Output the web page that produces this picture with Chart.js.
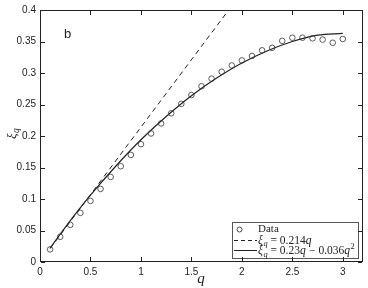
<!DOCTYPE html>
<html><head><meta charset="utf-8">
<script src="https://cdn.jsdelivr.net/npm/chart.js@4"></script>
<style>
html,body{margin:0;background:#fff}
#wrap{position:relative;width:368px;height:288px}
.ln{position:absolute;background:#222;pointer-events:none}
</style>
</head><body><div id="wrap"><canvas id="c"></canvas></div>
<script>
/* DATA */
const q=[0.1,0.2,0.3,0.4,0.5,0.6,0.7,0.8,0.9,1.0,1.1,1.2,1.3,1.4,1.5,1.6,1.7,1.8,1.9,2.0,2.1,2.2,2.3,2.4,2.5,2.6,2.7,2.8,2.9,3.0];
const xi=[0.020,0.040,0.059,0.078,0.097,0.116,0.135,0.152,0.170,0.187,0.204,0.220,0.236,0.251,0.265,0.279,0.291,0.302,0.312,0.320,0.327,0.336,0.340,0.351,0.356,0.356,0.355,0.353,0.348,0.354];
const linQ=[0.1,2.0];
const linXi=[0.0214,0.428];
const fitQ=[0.1,0.25,0.5,0.75,1.0,1.25,1.5,1.75,2.0,2.25,2.5,2.75,3.0];
const fitXi=[0.022,0.055,0.106,0.152,0.194,0.231,0.264,0.292,0.316,0.335,0.350,0.360,0.363];
const xTicks=[0,0.5,1,1.5,2,2.5,3];
const xLabels=['0','0.5','1','1.5','2','2.5','3'];
const yTicks=[0,0.05,0.1,0.15,0.2,0.25,0.3,0.35,0.4];
const yLabels=['0','0.05','0.1','0.15','0.2','0.25','0.3','0.35','0.4'];

const ink='#222';
const serif='"Liberation Serif","DejaVu Serif",serif';
const sans='"Liberation Sans",Arial,sans-serif';
const pts=(a,b)=>a.map((v,i)=>({x:v,y:b[i]}));
const TL=4;

/* math text: parts [text, style] n normal, i italic, sub, sup */
function mathText(ctx,parts,x,y,size){
  parts.forEach(p=>{
    let s=size,dy=0,st='';
    if(p[1]=='i')st='italic ';
    if(p[1]=='sub'){st='italic ';s=size*0.72;dy=size*0.25;}
    if(p[1]=='sup'){s=size*0.72;dy=-size*0.4;}
    ctx.font=st+s+'px '+serif;
    ctx.fillText(p[0],x,y+dy);
    x+=ctx.measureText(p[0]).width+(p[1]=='i'?0.5:0);
  });
}

/* frame rectangles (pixel rows/cols) from the scales */
function frameRects(ch){
  const a=ch.chartArea,sx=ch.scales.x,sy=ch.scales.y;
  const l=Math.round(a.left),r=Math.round(a.right)-1,t=Math.round(a.top),b=Math.round(a.bottom)-1;
  const R=[[l,t,r-l+1,1],[l,b,r-l+1,1],[l,t,1,b-t+1],[r,t,1,b-t+1]];
  xTicks.forEach(v=>{
    const p=Math.round(sx.getPixelForValue(v));
    R.push([p,b-TL,1,TL],[p,t+1,1,TL]);
  });
  yTicks.forEach(v=>{
    const p=Math.round(sy.getPixelForValue(v));
    R.push([l+1,p,TL,1],[r-TL,p,TL,1]);
  });
  return R;
}

/* LABELS + LEGEND + FRAME */
const deco={id:'deco',afterDraw(ch){
  const c=ch.ctx;
  c.save();
  c.fillStyle=ink;
  c.textBaseline='alphabetic';
  c.font='13px '+sans;
  c.fillText('b',64,38);

  /* axis titles */
  c.font='italic 15px '+serif;
  c.textAlign='center';
  c.fillText('q',201,283);
  c.save();
  c.translate(16,139);c.rotate(-Math.PI/2);
  c.textAlign='left';
  mathText(c,[['ξ','i'],['q','sub']],0,0,13);
  c.restore();

  /* legend */
  c.textAlign='left';
  const L=232,T=222,W=126,H=36;
  c.fillStyle='#fff';c.fillRect(L,T,W,H);
  c.strokeStyle='#555';c.lineWidth=1;c.strokeRect(L+0.5,T+0.5,W,H);
  c.strokeStyle=ink;c.fillStyle=ink;
  c.lineWidth=0.8;
  c.beginPath();c.arc(239.5,229.5,2.5,0,Math.PI*2);c.stroke();
  c.font='11px '+serif;c.fillText('Data',258,232);
  c.lineWidth=1;
  c.setLineDash([4,3]);
  c.beginPath();c.moveTo(234,240.5);c.lineTo(257,240.5);c.stroke();
  c.setLineDash([]);
  c.beginPath();c.moveTo(234,250.5);c.lineTo(257,250.5);c.stroke();
  mathText(c,[['ξ','i'],['q','sub'],[' = 0.214','n'],['q','i']],258,243.5,11.5);
  mathText(c,[['ξ','i'],['q','sub'],[' = 0.23','n'],['q','i'],[' − 0.036','n'],['q','i'],['2','sup']],258,254,11.5);

  /* box and inward ticks */
  c.fillStyle=ink;
  frameRects(ch).forEach(f=>c.fillRect(f[0],f[1],f[2],f[3]));
  c.restore();
}};

const chart=new Chart(document.getElementById('c'),{
  type:'scatter',
  data:{datasets:[
    {label:'Data',data:pts(q,xi),showLine:false,pointStyle:'circle',pointRadius:2.8,pointBorderWidth:0.8,borderColor:'#333',backgroundColor:'rgba(0,0,0,0)'},
    {label:'lin',data:pts(linQ,linXi),showLine:true,borderColor:ink,borderWidth:1,borderDash:[5,4],pointRadius:0},
    {label:'fit',data:pts(fitQ,fitXi),showLine:true,borderColor:ink,borderWidth:1.2,pointRadius:0,cubicInterpolationMode:'monotone'}
  ]},
  options:{
    responsive:true,maintainAspectRatio:false,animation:false,
    layout:{padding:{top:8,right:5,left:0,bottom:0}},
    plugins:{legend:{display:false},tooltip:{enabled:false}},
    scales:{
      x:{type:'linear',min:0,max:3.2,
        grid:{display:false,drawTicks:false},border:{display:false},
        afterBuildTicks:s=>{s.ticks=xTicks.map(v=>({value:v}));},
        afterFit:s=>{s.height=26;},
        ticks:{padding:4,color:ink,font:{family:sans,size:10},callback:(v,i)=>xLabels[i],maxRotation:0,autoSkip:false}},
      y:{type:'linear',min:0,max:0.4,
        grid:{display:false,drawTicks:false},border:{display:false},
        afterBuildTicks:s=>{s.ticks=yTicks.map(v=>({value:v}));},
        afterFit:s=>{s.width=40;},
        ticks:{padding:4,color:ink,font:{family:sans,size:10},callback:(v,i)=>yLabels[i],autoSkip:false}}
    }
  },
  plugins:[deco]
});

/* same box and ticks as thin page elements over the canvas */
const wrap=document.getElementById('wrap');
frameRects(chart).forEach(f=>{
  const d=document.createElement('div');
  d.className='ln';
  d.style.left=f[0]+'px';d.style.top=f[1]+'px';
  d.style.width=f[2]+'px';d.style.height=f[3]+'px';
  wrap.appendChild(d);
});
</script></body></html>
